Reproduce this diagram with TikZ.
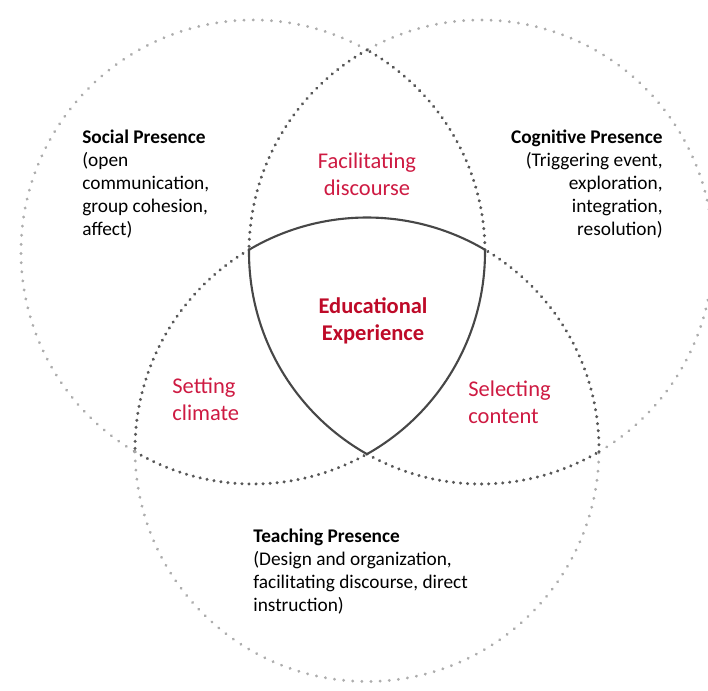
\documentclass[tikz,border=0pt]{standalone}
\usepackage{fontspec}
\setmainfont{Carlito}
\usepackage{xcolor}
\usetikzlibrary{calc}
\definecolor{facetred}{RGB}{206,26,66}
\definecolor{corered}{RGB}{190,10,40}
\tikzset{%
	outerarc/.style = {draw=black!32, line width=1.8pt, line cap=round, dash pattern=on 0.01pt off 5.2pt},
	innerarc/.style = {draw=black!66, line width=1.9pt, line cap=round, dash pattern=on 0.01pt off 4pt},
	corearc/.style  = {draw=black!72, line width=1.2pt},
	presence/.style = {inner sep=0pt, font=\fontsize{11}{13}\selectfont},
	facet/.style    = {inner sep=0pt, text=facetred, font=\fontsize{12.8}{15.5}\selectfont, align=left},
}

\begin{document}
\begin{tikzpicture}[x=0.02cm,y=0.02cm]
		\useasboundingbox (0,0) rectangle (708,691);
		\coordinate (social) at (253,439);
		\coordinate (cognitive) at (481,439);
		\coordinate (teaching) at (367,241.5);
		
		% social presence circle
		\draw[outerarc] ($(social)+(60.57:232)$) arc[start angle=60.57, end angle=239.43, radius=232];
		\draw[innerarc] ($(social)+(0.57:232)$) arc[start angle=0.57, end angle=60.57, radius=232];
		\draw[innerarc] ($(social)+(-120.57:232)$) arc[start angle=-120.57, end angle=-60.57, radius=232];
		
		% cognitive presence circle
		\draw[outerarc] ($(cognitive)+(-59.43:232)$) arc[start angle=-59.43, end angle=119.43, radius=232];
		\draw[innerarc] ($(cognitive)+(119.43:232)$) arc[start angle=119.43, end angle=179.43, radius=232];
		\draw[innerarc] ($(cognitive)+(240.57:232)$) arc[start angle=240.57, end angle=300.57, radius=232];
		
		% teaching presence circle
		\draw[outerarc] ($(teaching)+(180.57:232)$) arc[start angle=180.57, end angle=359.43, radius=232];
		\draw[innerarc] ($(teaching)+(-0.57:232)$) arc[start angle=-0.57, end angle=59.43, radius=232];
		\draw[innerarc] ($(teaching)+(120.57:232)$) arc[start angle=120.57, end angle=180.57, radius=232];
		
		% educational experience
		\draw[corearc] ($(teaching)+(59.43:232)$) arc[start angle=59.43, end angle=120.57, radius=232]
			arc[start angle=179.43, end angle=240.57, radius=232]
			arc[start angle=-60.57, end angle=0.57, radius=232];
		
		\node[presence, anchor=north west, align=left] (socialtext) at (82,561) {\textbf{Social Presence}\\(open\\communication,\\group cohesion,\\affect)};
		\node[presence, anchor=north east, align=right] (cognitivetext) at (663,561) {\textbf{Cognitive Presence}\\(Triggering event,\\exploration,\\integration,\\resolution)};
		\node[presence, anchor=north west, align=left] (teachingtext) at (253,162) {\textbf{Teaching Presence}\\(Design and organization,\\facilitating discourse, direct\\instruction)};
		
		\node[facet, align=center] (discourse) at (367,517) {Facilitating\\discourse};
		\node[facet, text=corered, align=center, font=\fontsize{12.8}{15.5}\selectfont\bfseries] (experience) at (373,370) {Educational\\Experience};
		\node[facet, anchor=west] (climate) at (172,292) {Setting\\climate};
		\node[facet, anchor=west] (content) at (468,289) {Selecting\\content};
\end{tikzpicture}
\end{document}
